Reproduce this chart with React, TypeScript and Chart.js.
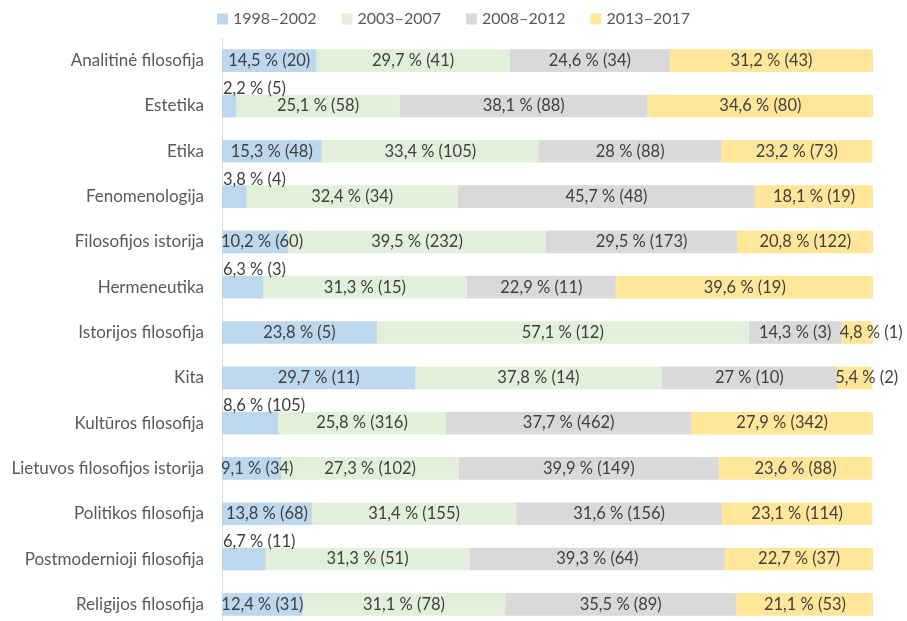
import React, { useEffect, useRef } from "react";
import { Chart, registerables } from "chart.js";

Chart.register(...registerables);

const categories = [
  "Analitinė filosofija",
  "Estetika",
  "Etika",
  "Fenomenologija",
  "Filosofijos istorija",
  "Hermeneutika",
  "Istorijos filosofija",
  "Kita",
  "Kultūros filosofija",
  "Lietuvos filosofijos istorija",
  "Politikos filosofija",
  "Postmodernioji filosofija",
  "Religijos filosofija",
];

const seriesNames = ["1998–2002", "2003–2007", "2008–2012", "2013–2017"];

const pct1998 = [14.5, 2.2, 15.3, 3.8, 10.2, 6.3, 23.8, 29.7, 8.6, 9.1, 13.8, 6.7, 12.4];
const cnt1998 = [20, 5, 48, 4, 60, 3, 5, 11, 105, 34, 68, 11, 31];
const pct2003 = [29.7, 25.1, 33.4, 32.4, 39.5, 31.3, 57.1, 37.8, 25.8, 27.3, 31.4, 31.3, 31.1];
const cnt2003 = [41, 58, 105, 34, 232, 15, 12, 14, 316, 102, 155, 51, 78];
const pct2008 = [24.6, 38.1, 28, 45.7, 29.5, 22.9, 14.3, 27, 37.7, 39.9, 31.6, 39.3, 35.5];
const cnt2008 = [34, 88, 88, 48, 173, 11, 3, 10, 462, 149, 156, 64, 89];
const pct2013 = [31.2, 34.6, 23.2, 18.1, 20.8, 39.6, 4.8, 5.4, 27.9, 23.6, 23.1, 22.7, 21.1];
const cnt2013 = [43, 80, 73, 19, 122, 19, 1, 2, 342, 88, 114, 37, 53];

const colors = ["#BDD7EE", "#E2EFDA", "#D9D9D9", "#FFE699"];
const FONT = "Lato, 'Noto Sans', sans-serif";

const pctSeries = [pct1998, pct2003, pct2008, pct2013];
const cntSeries = [cnt1998, cnt2003, cnt2008, cnt2013];

const fmt = (p: number, c: number) => `${String(p).replace(".", ",")} % (${c})`;

const labelPlugin = {
  id: "segLabels",
  afterDatasetsDraw(chart: any) {
    const ctx = chart.ctx as CanvasRenderingContext2D;
    const area = chart.chartArea;
    ctx.save();
    ctx.font = `16.5px ${FONT}`;
    ctx.fillStyle = "#404040";
    ctx.textBaseline = "middle";
    chart.data.datasets.forEach((ds: any, di: number) => {
      const meta = chart.getDatasetMeta(di);
      meta.data.forEach((el: any, i: number) => {
        const p = pctSeries[di][i];
        const text = fmt(p, cntSeries[di][i]);
        const start = Math.min(el.x, el.base);
        const end = Math.max(el.x, el.base);
        const w = ctx.measureText(text).width;
        ctx.textAlign = "left";
        if (di === 0 && p < 9) {
          ctx.fillText(text, start + 1, el.y - el.height / 2 - 6);
        } else if (di === 3 && p < 6) {
          ctx.fillText(text, start - 2, el.y);
        } else {
          let left = (start + end) / 2 - w / 2;
          if (left < area.left - 1) left = area.left - 1;
          ctx.fillText(text, left, el.y);
        }
      });
    });
    ctx.restore();
  },
};

const legendPlugin = {
  id: "customLegend",
  afterDraw(chart: any) {
    const ctx = chart.ctx as CanvasRenderingContext2D;
    ctx.save();
    ctx.font = `16px ${FONT}`;
    ctx.textBaseline = "middle";
    ctx.textAlign = "left";
    const box = 11;
    const gapBox = 5;
    const gapItem = 25;
    const items = chart.data.datasets.map((ds: any) => ({
      text: ds.label as string,
      color: ds.backgroundColor as string,
      w: ctx.measureText(ds.label).width,
    }));
    const total = items.reduce((s: number, it: any) => s + box + gapBox + it.w, 0) + gapItem * (items.length - 1);
    let x = chart.width / 2 - total / 2;
    const cy = 19;
    items.forEach((it: any) => {
      ctx.fillStyle = it.color;
      ctx.fillRect(x, cy - box / 2, box, box);
      ctx.fillStyle = "#595959";
      ctx.fillText(it.text, x + box + gapBox, cy);
      x += box + gapBox + it.w + gapItem;
    });
    ctx.restore();
  },
};

export default function App() {
  const ref = useRef<HTMLCanvasElement | null>(null);
  useEffect(() => {
    if (!ref.current) return;
    const chart = new Chart(ref.current, {
      type: "bar",
      data: {
        labels: categories,
        datasets: seriesNames.map((name, i) => ({
          label: name,
          data: pctSeries[i],
          backgroundColor: colors[i],
          borderWidth: 0,
          barPercentage: 0.5,
          categoryPercentage: 1,
        })),
      },
      options: {
        indexAxis: "y",
        responsive: true,
        maintainAspectRatio: false,
        animation: false,
        devicePixelRatio: 1,
        layout: { padding: { top: 38, right: 34, bottom: 0, left: 0 } },
        plugins: {
          legend: { display: false },
          tooltip: { enabled: false },
        },
        scales: {
          x: { display: false, stacked: true, min: 0, max: 100 },
          y: {
            stacked: true,
            grid: { display: false, drawTicks: false },
            border: { display: true, color: "#D9D9D9", width: 1 },
            ticks: {
              color: "#595959",
              padding: 18,
              font: { family: FONT, size: 17 },
            },
            afterFit: (s: any) => {
              s.width = 222;
              s.paddingTop = 0;
              s.paddingBottom = 0;
            },
          },
        },
      },
      plugins: [labelPlugin, legendPlugin],
    });
    return () => chart.destroy();
  }, []);
  return (
    <div style={{ position: "absolute", left: 0, top: 0, width: 907, height: 621, overflow: "hidden", background: "#fff" }}>
      <div style={{ position: "relative", width: 907, height: 627 }}>
        <canvas ref={ref} />
      </div>
    </div>
  );
}
